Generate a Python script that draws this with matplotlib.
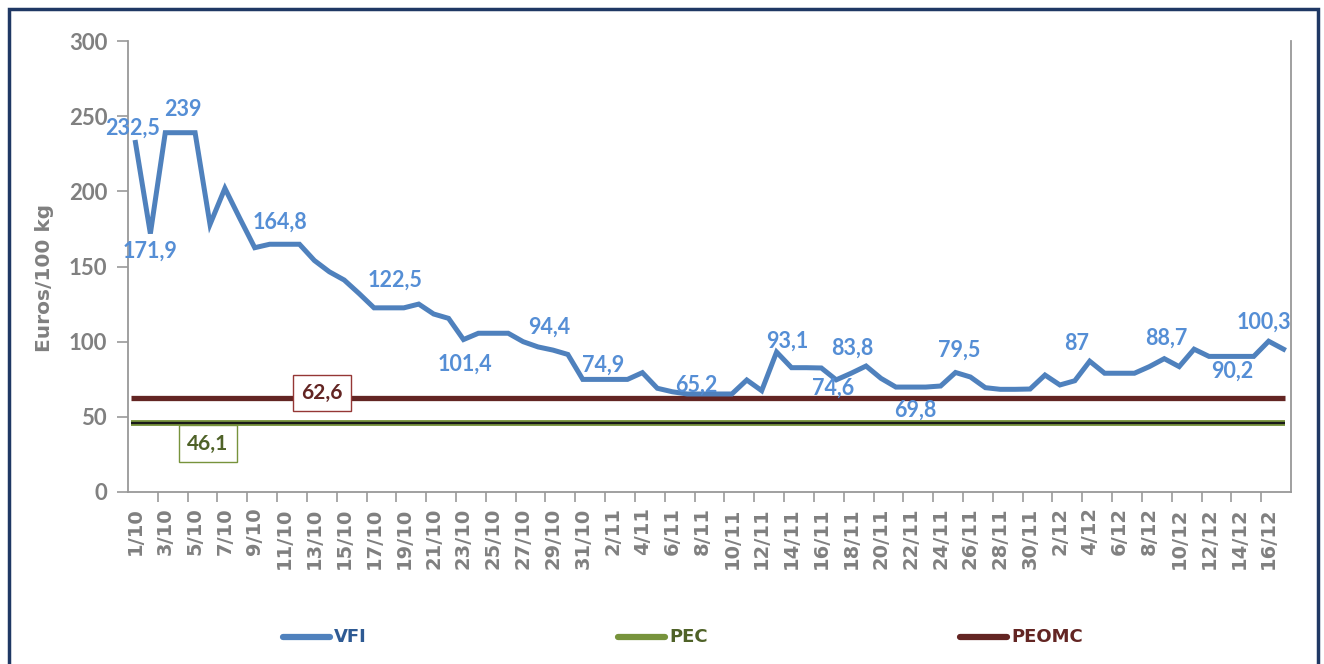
import matplotlib
matplotlib.use("Agg")
import matplotlib.pyplot as plt
from matplotlib.patches import Rectangle
from matplotlib.lines import Line2D

# ---- data ----
dates = ([f"{d}/10" for d in range(1, 32)] +
         [f"{d}/11" for d in range(1, 31)] +
         [f"{d}/12" for d in range(1, 18)])

vfi = [232.5, 171.9, 239, 239, 239, 178, 202, 182, 162.5, 164.8,
       164.8, 164.8, 154, 146.5, 141, 132, 122.5, 122.5, 122.5, 125,
       118.4, 115.5, 101.4, 105.6, 105.6, 105.6, 100, 96.5, 94.4, 91.5,
       74.9, 74.9, 74.9, 74.9, 79.4, 69, 66.7, 65.2, 65.2, 65.2,
       65.2, 74.5, 67.4, 93.1, 82.7, 82.7, 82.5, 74.6, 79, 83.8,
       75.6, 69.8, 69.8, 69.8, 70.5, 79.5, 76.5, 69.4, 68.3, 68.3,
       68.5, 77.8, 71.2, 74, 87, 79, 79, 79, 83.4, 88.7,
       83.4, 95, 90.2, 90.2, 90.2, 90.2, 100.3, 95]
pec_value = 46.1
peomc_value = 62.6

# labelled points: index, text, offset (pixels)
label_idx = [0, 1, 3, 10, 17, 22, 28, 31, 38, 43, 47, 49, 52, 55, 64, 69, 73, 76]
label_txt = ["232,5", "171,9", "239", "164,8", "122,5", "101,4", "94,4", "74,9",
             "65,2", "93,1", "74,6", "83,8", "69,8", "79,5", "87", "88,7", "90,2", "100,3"]
label_off = [(-3, 14), (0, -18), (3, 23), (-5, 22), (6, 28), (1, -25), (-4, 23),
             (5, 14), (-6, 9), (11, 11), (-3, -8), (-14, 18), (5, -23), (4, 22),
             (-13, 18), (2, 20), (8, -15), (-5, 19)]

series_names = ["VFI", "PEC", "PEOMC"]
c_vfi = "#4F81BD"
c_pec = "#77933C"
c_peomc = "#632523"
c_lab = "#558ED5"
grey = "#808080"

fig = plt.figure(figsize=(13.24, 6.64), dpi=100)
ax = fig.add_axes([128 / 1324, 1 - 492 / 664, (1291 - 128) / 1324, (492 - 41) / 664])

x = list(range(len(vfi)))
n = len(vfi)
ax.plot(x, vfi, color=c_vfi, lw=3.6, solid_joinstyle="miter", zorder=4)
ax.hlines(peomc_value, -0.3, n - 1 + 0.1, color=c_peomc, lw=3.8, zorder=3)
ax.hlines(pec_value, -0.3, n - 1 + 0.1, color=c_pec, lw=4.2, zorder=3)
ax.hlines(pec_value, -0.3, n - 1 + 0.1, color="#1a1a1a", lw=1.6, zorder=3)

for i, t, (dx, dy) in zip(label_idx, label_txt, label_off):
    ax.annotate(t, (i, vfi[i]), xytext=(dx, dy), textcoords="offset pixels",
                ha="center", va="center", color=c_lab, fontsize=15.5,
                fontweight="bold", family="Lato", zorder=6)

ax.annotate("62,6", (12.5, peomc_value), xytext=(0, 5), textcoords="offset pixels",
            ha="center", va="center", color=c_peomc, fontsize=15, fontweight="bold",
            family="Lato", zorder=7,
            bbox=dict(boxstyle="square,pad=0.4", fc="white", ec="#953735", lw=1))
ax.annotate("46,1", (4.85, pec_value), xytext=(0, -21), textcoords="offset pixels",
            ha="center", va="center", color="#4F6228", fontsize=15, fontweight="bold",
            family="Lato", zorder=7,
            bbox=dict(boxstyle="square,pad=0.4", fc="white", ec="#77933C", lw=1))

ax.set_xlim(-0.5, n - 0.5)
ax.set_ylim(0, 300)
ax.set_yticks(range(0, 301, 50))
ax.set_yticklabels([str(v) for v in range(0, 301, 50)], color=grey,
                   fontsize=16, fontweight="bold", family="Lato")
ax.tick_params(axis="y", length=8, width=1.2, color="#999999", pad=7)

ax.set_xticks(range(0, n, 2))
ax.set_xticklabels(dates[0::2], rotation=90, color=grey, fontsize=14,
                   fontweight="bold", family="DejaVu Sans")
ax.tick_params(axis="x", which="major", length=0, pad=11)
ax.set_xticks([i - 0.5 for i in range(2, n, 2)], minor=True)
ax.tick_params(axis="x", which="minor", length=7, width=1.2, color="#999999")

ax.spines["top"].set_visible(False)
for s in ["left", "bottom", "right"]:
    ax.spines[s].set_color("#999999")
    ax.spines[s].set_linewidth(1.3)

fig.text(45 / 1324, 1 - 278 / 664, "Euros/100 kg", rotation=90, ha="center",
         va="center", color=grey, fontsize=14.5, fontweight="bold", family="DejaVu Sans")

# legend
leg_cols = [c_vfi, c_pec, c_peomc]
leg_x = [283, 618, 960]
leg_tc = ["#2E5A93", "#4F6228", c_peomc]
for name, col, lx, tc in zip(series_names, leg_cols, leg_x, leg_tc):
    fig.add_artist(Line2D([lx / 1324, (lx + 47) / 1324], [1 - 637 / 664] * 2,
                          color=col, lw=4.5, solid_capstyle="round"))
    fig.text((lx + 51) / 1324, 1 - 637 / 664, name, ha="left", va="center",
             color=tc, fontsize=13, fontweight="bold", family="DejaVu Sans")

# outer frame
fig.add_artist(Rectangle((9 / 1324, -0.05), (1318 - 9) / 1324, 1.05 - 9 / 664,
                         transform=fig.transFigure, fill=False, ec="#1F3864", lw=2.5))

fig.savefig("out.png", dpi=100)
